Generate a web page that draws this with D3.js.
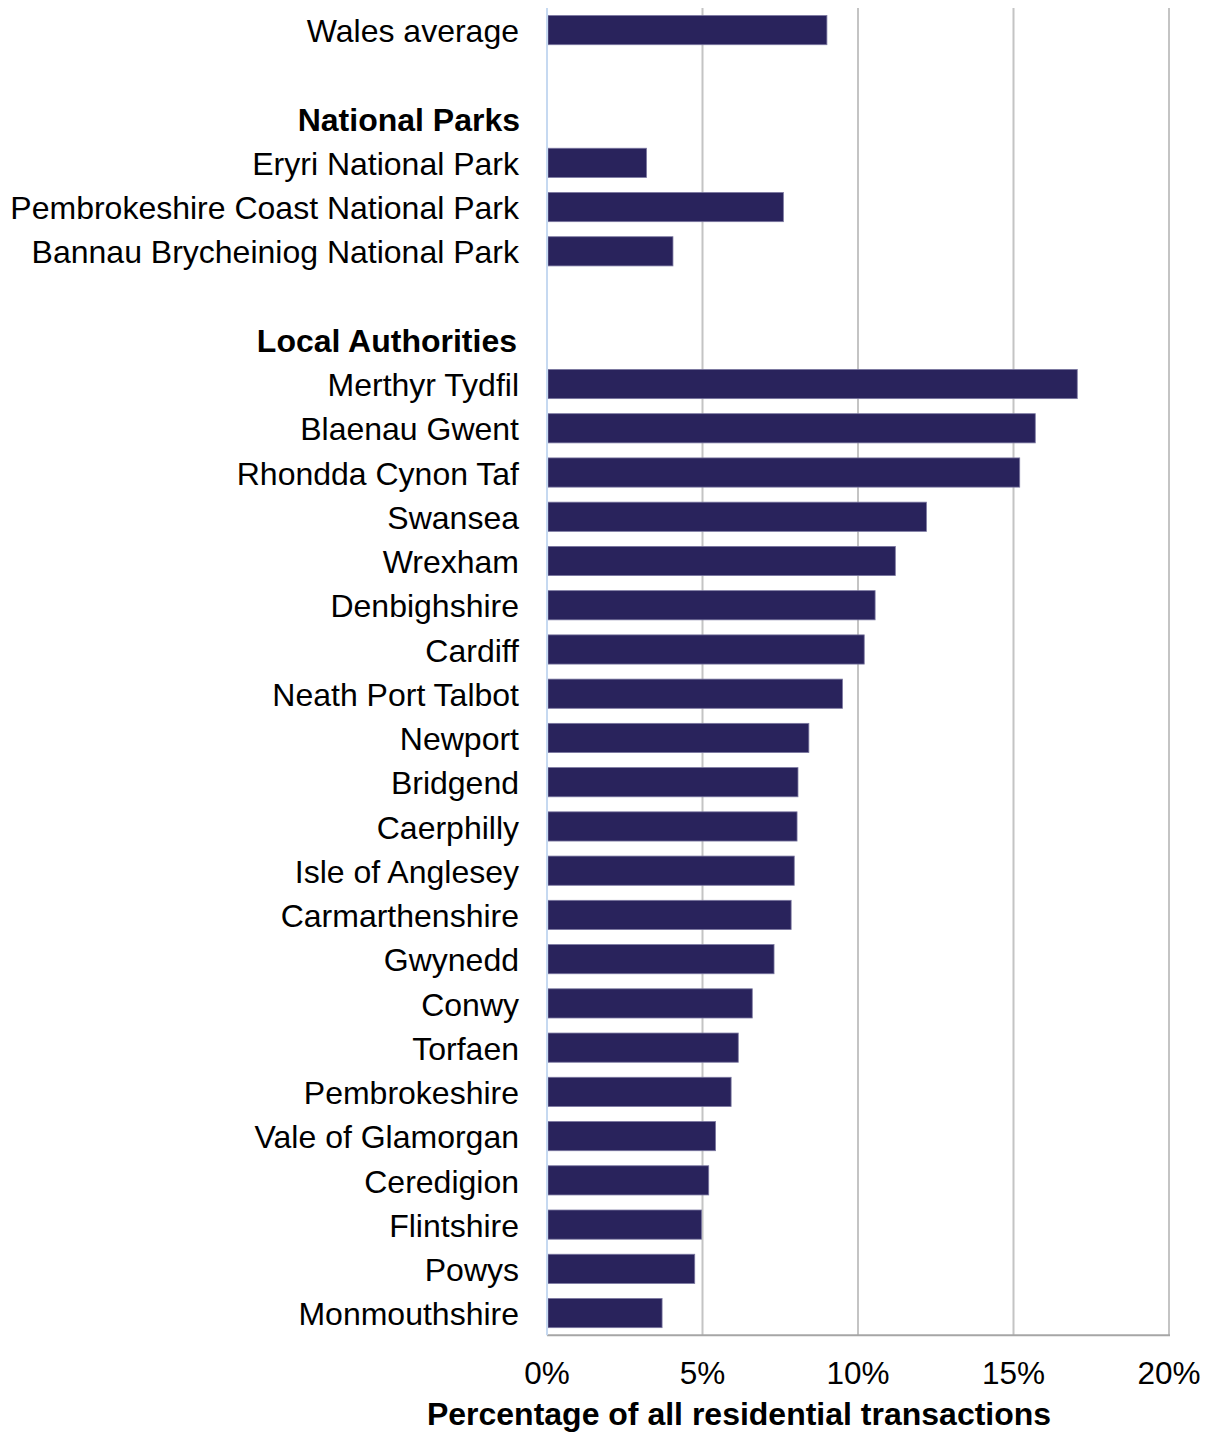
<!DOCTYPE html>
<html>
<head>
<meta charset="utf-8">
<script src="https://cdn.jsdelivr.net/npm/d3@7"></script>
<style>
  html, body { margin: 0; padding: 0; background: #fff; }
  svg { display: block; }
  text { font-family: "Liberation Sans", Arial, sans-serif; fill: #000; }
</style>
</head>
<body>
<div id="chart"></div>
<script>
// ---- Data ----
const walesLabel = "Wales average";
const walesValue = 9.0;

const parksHeader = "National Parks";
const parkNames = ["Eryri National Park", "Pembrokeshire Coast National Park", "Bannau Brycheiniog National Park"];
const parkValues = [3.2, 7.6, 4.05];

const laHeader = "Local Authorities";
const laNames = ["Merthyr Tydfil", "Blaenau Gwent", "Rhondda Cynon Taf", "Swansea", "Wrexham",
  "Denbighshire", "Cardiff", "Neath Port Talbot", "Newport", "Bridgend", "Caerphilly",
  "Isle of Anglesey", "Carmarthenshire", "Gwynedd", "Conwy", "Torfaen", "Pembrokeshire",
  "Vale of Glamorgan", "Ceredigion", "Flintshire", "Powys", "Monmouthshire"];
const laValues = [17.05, 15.7, 15.2, 12.2, 11.2, 10.55, 10.2, 9.5, 8.42, 8.07, 8.04,
  7.95, 7.85, 7.3, 6.6, 6.15, 5.92, 5.42, 5.2, 4.97, 4.75, 3.7];

const xTicks = [0, 5, 10, 15, 20];
const xTitle = "Percentage of all residential transactions";

// ---- Build rows ----
const rows = [];
rows.push({label: walesLabel, value: walesValue, type: "bar"});
rows.push({label: "", value: null, type: "blank"});
rows.push({label: parksHeader, value: null, type: "header"});
parkNames.forEach((n, i) => rows.push({label: n, value: parkValues[i], type: "bar"}));
rows.push({label: "", value: null, type: "blank"});
rows.push({label: laHeader, value: null, type: "header"});
laNames.forEach((n, i) => rows.push({label: n, value: laValues[i], type: "bar"}));
rows.forEach((r, i) => r.idx = i);

// ---- Layout ----
const W = 1212, H = 1432;
const plotLeft = 547, plotRight = 1169, plotTop = 8;
const step = 44.24;
const plotBottom = plotTop + rows.length * step;

const svg = d3.select("#chart").append("svg").attr("width", W).attr("height", H);

const x = d3.scaleLinear().domain([0, 20]).range([plotLeft, plotRight]);
const y = d3.scaleBand().domain(rows.map(r => r.idx)).range([plotTop, plotBottom])
  .paddingInner(0.34).paddingOuter(0.17);

// gridlines
svg.append("g").selectAll("line").data(xTicks.filter(t => t > 0)).join("line")
  .attr("x1", d => x(d)).attr("x2", d => x(d))
  .attr("y1", plotTop).attr("y2", plotBottom)
  .attr("stroke", "#c4c4c4").attr("stroke-width", 2);

// bottom axis line
svg.append("line").attr("x1", plotLeft).attr("x2", plotRight + 1).attr("y1", plotBottom).attr("y2", plotBottom)
  .attr("stroke", "#a6a6a6").attr("stroke-width", 2);

// bars
svg.append("g").selectAll("rect").data(rows.filter(r => r.type === "bar")).join("rect")
  .attr("x", x(0) + 1)
  .attr("y", d => y(d.idx))
  .attr("width", d => x(d.value) - x(0) - 1)
  .attr("height", y.bandwidth())
  .attr("fill", "#29235c")
  .attr("stroke", "#7a77a0").attr("stroke-width", 0.8);

// left axis line (light blue)
svg.append("line").attr("x1", plotLeft).attr("x2", plotLeft).attr("y1", plotTop).attr("y2", plotBottom)
  .attr("stroke", "#c6d9f1").attr("stroke-width", 2);

// category labels
svg.append("g").selectAll("text").data(rows.filter(r => r.type !== "blank")).join("text")
  .attr("x", d => d.type === "header" ? (d.label === laHeader ? 517 : 520) : 519)
  .attr("y", d => y(d.idx) + y.bandwidth() / 2)
  .attr("dy", "0.38em")
  .attr("text-anchor", "end")
  .attr("font-size", 32)
  .attr("font-weight", d => d.type === "header" ? "bold" : "normal")
  .text(d => d.label);

// tick labels
svg.append("g").selectAll("text").data(xTicks).join("text")
  .attr("x", d => x(d))
  .attr("y", 1384)
  .attr("text-anchor", "middle")
  .attr("font-size", 31.5)
  .text(d => d + "%");

// axis title
svg.append("text")
  .attr("x", 739).attr("y", 1425)
  .attr("text-anchor", "middle")
  .attr("font-size", 32)
  .attr("font-weight", "bold")
  .text(xTitle);
</script>
</body>
</html>
